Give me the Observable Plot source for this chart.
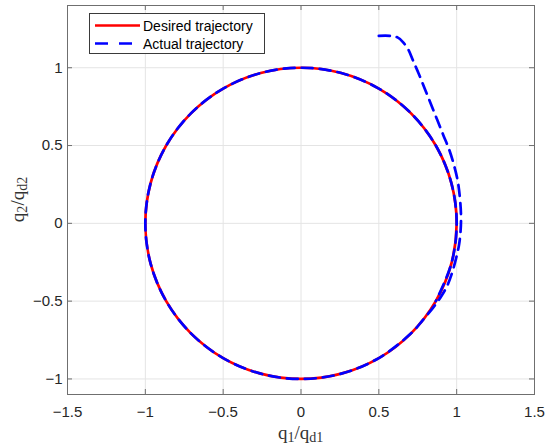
<!DOCTYPE html>
<html>
<head>
<meta charset="utf-8">
<script src="https://cdn.jsdelivr.net/npm/d3@7"></script>
<script src="https://cdn.jsdelivr.net/npm/@observablehq/plot@0.6"></script>
<style>
  html, body { margin: 0; padding: 0; background: #fff; }
  #wrap { position: relative; width: 550px; height: 446px; }
  .axlabel { position: absolute; font-family: "Liberation Serif", serif; font-size: 19px; color: #333; white-space: nowrap; line-height: 1.1; }
  .axlabel sub { font-size: 74%; vertical-align: -0.22em; line-height: 0; }
</style>
</head>
<body>
<div id="wrap"></div>
<script>
// Desired trajectory (q1/qd1, q2/qd2), every 15 degrees round the unit circle
const desiredQ1 = [1, 0.966, 0.866, 0.707, 0.5, 0.259, 0, -0.259, -0.5, -0.707, -0.866, -0.966, -1, -0.966, -0.866, -0.707, -0.5, -0.259, 0, 0.259, 0.5, 0.707, 0.866, 0.966];
const desiredQ2 = [0, 0.259, 0.5, 0.707, 0.866, 0.966, 1, 0.966, 0.866, 0.707, 0.5, 0.259, 0, -0.259, -0.5, -0.707, -0.866, -0.966, -1, -0.966, -0.866, -0.707, -0.5, -0.259];

// Actual trajectory: approach from (0.5, 1.2), then follows the circle clockwise
const actualQ1 = [0.50, 0.57, 0.62, 0.655, 0.69, 0.72, 0.755, 0.795, 0.835, 0.875, 0.915, 0.955, 0.985, 1.008, 1.022, 1.028, 1.025, 1.015, 0.995, 0.97, 0.94, 0.90, 0.85, 0.78,
  0.707, 0.5, 0.259, 0, -0.259, -0.5, -0.707, -0.866, -0.966, -1, -0.966, -0.866, -0.707, -0.5, -0.259, 0, 0.259, 0.5, 0.707, 0.866, 0.966, 1, 0.966, 0.866];
const actualQ2 = [1.205, 1.205, 1.195, 1.165, 1.115, 1.045, 0.965, 0.865, 0.765, 0.665, 0.565, 0.465, 0.365, 0.265, 0.15, 0.04, -0.05, -0.14, -0.23, -0.32, -0.40, -0.47, -0.54, -0.625,
  -0.707, -0.866, -0.966, -1, -0.966, -0.866, -0.707, -0.5, -0.259, 0, 0.259, 0.5, 0.707, 0.866, 0.966, 1, 0.966, 0.866, 0.707, 0.5, 0.259, 0, -0.259, -0.5];

const xTicks = [-1.5, -1, -0.5, 0, 0.5, 1, 1.5];
const yTicks = [-1, -0.5, 0, 0.5, 1];
const xDomain = [-1.5, 1.5];
const yDomain = [-1.1, 1.4];
const legendLabels = ["Desired trajectory", "Actual trajectory"];

const desired = desiredQ1.map((q1, i) => ({q1, q2: desiredQ2[i]}));
const actual = actualQ1.map((q1, i) => ({q1, q2: actualQ2[i]}));

const W = 550, H = 446;
const mL = 67, mR = 16, mT = 5, mB = 52;
const fw = W - mL - mR, fh = H - mT - mB, tk = 5;
const axisColor = "#6f6f6f";
const fmt = d3.format("~g");

const chart = Plot.plot({
  width: W, height: H,
  marginLeft: mL, marginRight: mR, marginTop: mT, marginBottom: mB,
  style: {fontFamily: "'Liberation Sans', Arial, sans-serif", fontSize: "15px", color: "#262626", background: "#fff"},
  x: {domain: xDomain},
  y: {domain: yDomain},
  marks: [
    Plot.gridX(xTicks, {stroke: "#e4e4e4", strokeOpacity: 1}),
    Plot.gridY(yTicks, {stroke: "#e4e4e4", strokeOpacity: 1}),
    Plot.line(desired, {x: "q1", y: "q2", stroke: "#ff0000", strokeWidth: 2.7, curve: "catmull-rom-closed"}),
    Plot.line(actual, {x: "q1", y: "q2", stroke: "#0000ff", strokeWidth: 2.7, strokeDasharray: "11,7", curve: "catmull-rom"}),
    Plot.frame({stroke: axisColor}),
    Plot.tickX(xTicks, {x: d => d, insetTop: fh - tk, stroke: axisColor}),
    Plot.tickX(xTicks, {x: d => d, insetBottom: fh - tk, stroke: axisColor}),
    Plot.tickY(yTicks, {y: d => d, insetRight: fw - tk, stroke: axisColor}),
    Plot.tickY(yTicks, {y: d => d, insetLeft: fw - tk, stroke: axisColor}),
    Plot.axisX({ticks: xTicks, tickFormat: fmt, tickSize: 0, tickPadding: 12, label: null, fill: "#262626"}),
    Plot.axisY({ticks: yTicks, tickFormat: fmt, tickSize: 0, tickPadding: 5, label: null, fill: "#262626"})
  ]
});

const wrap = document.getElementById("wrap");
wrap.appendChild(chart);

// Axis labels with subscripts
const xl = document.createElement("div");
xl.className = "axlabel";
xl.innerHTML = "q<sub>1</sub>/q<sub>d1</sub>";
wrap.appendChild(xl);
xl.style.left = (mL + fw / 2 - xl.offsetWidth / 2) + "px";
xl.style.top = "423px";

const yl = document.createElement("div");
yl.className = "axlabel";
yl.innerHTML = "q<sub>2</sub>/q<sub>d2</sub>";
wrap.appendChild(yl);
const yw = yl.offsetWidth, yh = yl.offsetHeight;
yl.style.left = (18 - yw / 2) + "px";
yl.style.top = (mT + fh / 2 - yh / 2) + "px";
yl.style.transform = "rotate(-90deg)";

// Legend
const ns = "http://www.w3.org/2000/svg";
const leg = document.createElementNS(ns, "svg");
leg.setAttribute("width", 176);
leg.setAttribute("height", 41);
leg.style.position = "absolute";
leg.style.left = "88.5px";
leg.style.top = "12.5px";
leg.innerHTML = `
  <rect x="0.5" y="0.5" width="175" height="40" fill="#fff" stroke="#3a3a3a" stroke-width="1"/>
  <line x1="6" y1="12.5" x2="51" y2="12.5" stroke="#ff0000" stroke-width="2.7"/>
  <line x1="6" y1="30.5" x2="51" y2="30.5" stroke="#0000ff" stroke-width="2.7" stroke-dasharray="13,11"/>
  <text x="54" y="17.5" font-family="'Liberation Sans', Arial, sans-serif" font-size="14" fill="#000">${legendLabels[0]}</text>
  <text x="54" y="35.5" font-family="'Liberation Sans', Arial, sans-serif" font-size="14" fill="#000">${legendLabels[1]}</text>`;
wrap.appendChild(leg);
</script>
</body>
</html>
